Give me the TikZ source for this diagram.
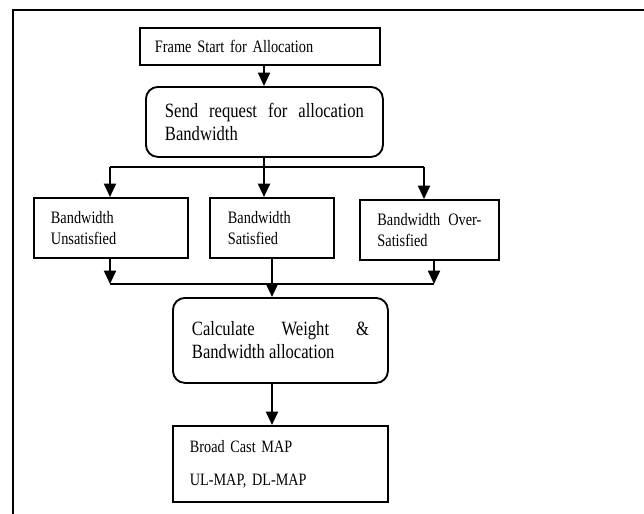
\documentclass[tikz,border=0pt]{standalone}
\usepackage{fontspec}
\newfontfamily\tnr[FakeStretch=0.82]{Liberation Serif}
\usetikzlibrary{arrows.meta}
\begin{document}
\begin{tikzpicture}[x=0.75pt,y=-0.75pt,
  every node/.style={font=\tnr},
  sq/.style={draw,line width=1.4pt,anchor=north west,inner ysep=0pt},
  rnd/.style={sq,rounded corners=9pt},
  small/.style={font=\tnr\fontsize{13.1}{15.75}\selectfont},
  big/.style={font=\tnr\fontsize{15.2}{17.25}\selectfont},
  conn/.style={line width=1.4pt},
  arr/.style={conn,-{Triangle[width=9pt,length=10pt]}}]
\useasboundingbox (0,0) rectangle (644,514);
\draw[line width=1.5pt] (13,514) -- (13,9.5) -- (644,9.5);

\node[sq,small,minimum width=240*0.75pt,minimum height=37*0.75pt,
  inner xsep=15*0.75pt,text width=210*0.75pt,align=left] (frame) at (139,27)
  {Frame Start for Allocation};
\node[rnd,big,minimum width=237*0.75pt,minimum height=70*0.75pt,
  inner xsep=19*0.75pt,text width=199*0.75pt,align=justify] (send) at (145,86)
  {Send request for allocation \mbox{Bandwidth}};
\node[sq,small,minimum width=154*0.75pt,minimum height=60*0.75pt,
  inner xsep=17*0.75pt,text width=120*0.75pt,align=left] (b1) at (33,197)
  {Bandwidth\\Unsatisfied};
\node[sq,small,minimum width=124*0.75pt,minimum height=60*0.75pt,
  inner xsep=18*0.75pt,text width=88*0.75pt,align=left] (b2) at (209,197)
  {Bandwidth\\Satisfied};
\node[sq,small,minimum width=139*0.75pt,minimum height=60*0.75pt,
  inner xsep=17*0.75pt,text width=104*0.75pt,align=left] (b3) at (359,199)
  {Bandwidth\hfill Over-\\Satisfied};
\node[rnd,big,minimum width=215*0.75pt,minimum height=85*0.75pt,
  inner xsep=19*0.75pt,text width=177*0.75pt,align=justify] (calc) at (172,297)
  {Calculate Weight \& \mbox{Bandwidth} allocation};
\node[sq,font=\tnr\fontsize{13}{24.75}\selectfont,minimum width=215*0.75pt,minimum height=76*0.75pt,
  inner xsep=17*0.75pt,text width=181*0.75pt,align=left] (broad) at (172,425)
  {Broad Cast MAP\\UL-MAP, DL-MAP};

\coordinate (jl) at (110,167);
\coordinate (jr) at (424,167);
\coordinate (jm) at (264,167);
\coordinate (ml) at (110,284);
\coordinate (mr) at (434,284);
\coordinate (cm) at (272,300);

\draw[arr] (jm |- frame.south) -- (jm |- send.north);
\draw[conn] (jm |- send.south) -- (jm);
\draw[conn] (jl) -- (jr);
\draw[arr] (jl) -- (jl |- b1.north);
\draw[arr] (jm) -- (jm |- b2.north);
\draw[arr] (jr) -- (jr |- b3.north);
\draw[arr] (ml |- b1.south) -- (ml);
\draw[arr] (mr |- b3.south) -- (mr);
\draw[conn] (ml) -- (mr);
\draw[arr] (cm |- b2.south) -- (cm |- calc.north);
\draw[arr] (cm |- calc.south) -- (cm |- broad.north);
\end{tikzpicture}
\end{document}
